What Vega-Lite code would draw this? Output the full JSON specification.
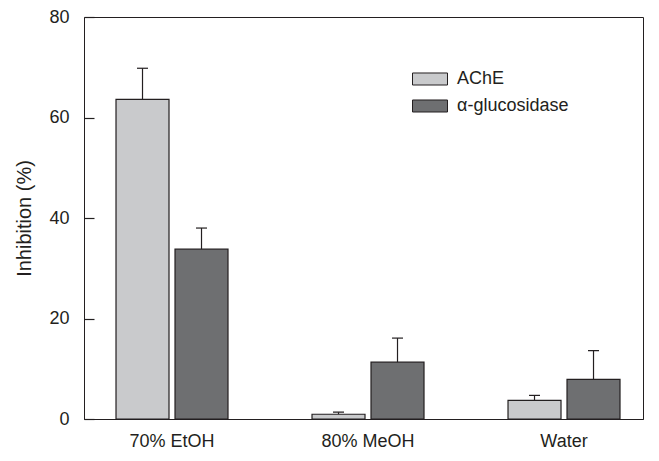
{
  "$schema": "https://vega.github.io/schema/vega-lite/v6.json",
  "autosize": {"type": "none"},
  "padding": {"left": 84, "top": 17, "right": 16, "bottom": 42},
  "width": 559,
  "height": 402,
  "background": "white",
  "config": {
    "font": "Liberation Sans",
    "view": {"stroke": "#231f20", "strokeWidth": 1},
    "axis": {"domainColor": "#231f20", "tickColor": "#231f20", "labelColor": "#231f20", "titleColor": "#231f20", "labelFont": "Liberation Sans", "titleFont": "Liberation Sans", "grid": false}
  },
  "data": {
    "values": [
      {"extract": "70% EtOH", "enzyme": "AChE", "value": 63.6, "upper": 69.8},
      {"extract": "70% EtOH", "enzyme": "α-glucosidase", "value": 33.8, "upper": 38.0},
      {"extract": "80% MeOH", "enzyme": "AChE", "value": 0.95, "upper": 1.35},
      {"extract": "80% MeOH", "enzyme": "α-glucosidase", "value": 11.3, "upper": 16.1},
      {"extract": "Water", "enzyme": "AChE", "value": 3.7, "upper": 4.7},
      {"extract": "Water", "enzyme": "α-glucosidase", "value": 7.9, "upper": 13.6}
    ]
  },
  "encoding": {
    "x": {
      "field": "extract", "type": "nominal", "sort": null,
      "scale": {"paddingInner": 0.4286, "paddingOuter": 0.1403, "align": 0.582},
      "axis": {"title": null, "labelAngle": 0, "ticks": false, "labelPadding": 13, "labelFontSize": 18, "domainWidth": 1}
    },
    "xOffset": {
      "field": "enzyme", "type": "nominal", "sort": null,
      "scale": {"paddingInner": 0.1017, "paddingOuter": 0}
    }
  },
  "layer": [
    {
      "mark": {"type": "rule", "stroke": "#231f20", "strokeWidth": 1.2},
      "encoding": {
        "y": {"field": "value", "type": "quantitative"},
        "y2": {"field": "upper"}
      }
    },
    {
      "mark": {"type": "tick", "color": "#231f20", "thickness": 1.2, "size": 11, "opacity": 1},
      "encoding": {
        "y": {"field": "upper", "type": "quantitative"}
      }
    },
    {
      "mark": {"type": "bar", "stroke": "#231f20", "strokeWidth": 1.2, "opacity": 1},
      "encoding": {
        "y": {
          "field": "value", "type": "quantitative",
          "scale": {"domain": [0, 80], "nice": false},
          "axis": {"title": "Inhibition (%)", "titleFontSize": 20, "titleFontWeight": "normal", "titlePadding": 14, "values": [0, 20, 40, 60, 80], "offset": -10, "domain": false, "tickSize": 10, "tickWidth": 1.2, "labelPadding": 15, "labelFontSize": 18}
        },
        "color": {
          "field": "enzyme", "type": "nominal", "sort": null,
          "scale": {"domain": ["AChE", "α-glucosidase"], "range": ["#c9cacc", "#6e6f71"]},
          "legend": {
            "title": null, "orient": "none", "legendX": 328, "legendY": 44,
            "symbolType": "M-1,-0.343H1V0.343H-1Z", "symbolSize": 1225,
            "symbolStrokeColor": "#231f20", "symbolStrokeWidth": 1, "symbolOpacity": 1,
            "labelFontSize": 18, "labelColor": "#231f20", "labelOffset": 9, "rowPadding": -2, "padding": 0
          }
        }
      }
    }
  ]
}
